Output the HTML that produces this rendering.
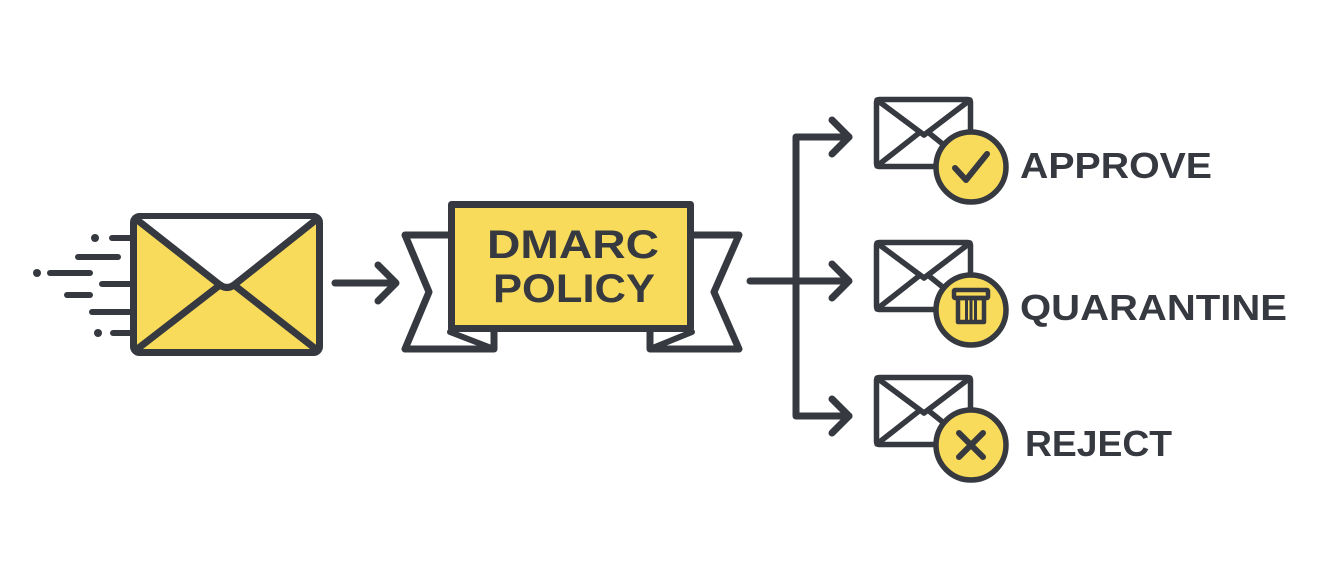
<!DOCTYPE html>
<html><head><meta charset="utf-8"><style>html,body{margin:0;padding:0;background:#fff}svg{display:block}</style></head>
<body>
<svg width="1338" height="578" viewBox="0 0 1338 578" xmlns="http://www.w3.org/2000/svg">
<g stroke="#363940" stroke-linecap="round" stroke-linejoin="round" fill="none">
  <g stroke-width="6">
    <line x1="112" y1="238" x2="130" y2="238"/>
    <line x1="78" y1="257" x2="118" y2="257"/>
    <line x1="50" y1="273" x2="90" y2="273"/>
    <line x1="102" y1="284" x2="130" y2="284"/>
    <line x1="67" y1="295" x2="90" y2="295"/>
    <line x1="92" y1="312" x2="130" y2="312"/>
    <line x1="113" y1="333" x2="130" y2="333"/>
  </g>
  <g stroke-width="8">
    <line x1="95" y1="238" x2="95" y2="238"/>
    <line x1="37" y1="273" x2="37" y2="273"/>
    <line x1="98" y1="333" x2="98" y2="333"/>
  </g>
  <rect x="133.5" y="216.5" width="186" height="136" rx="6" fill="#F8DB5A" stroke-width="7"/>
  <polygon points="136,219 317,219 228,287" fill="#fff" stroke="none"/>
  <path d="M136 219 L220 285 Q227 290 234 285 L317 219" stroke-width="7"/>
  <path d="M136 350 L220 285 M234 285 L317 350" stroke-width="7"/>
  <path d="M335 283 L396 283 M378 265 L396 283 L378 301" stroke-width="7"/>
  <path d="M448 235 L405 235 L429 292 L405 349 L494 349 L494 332" fill="#fff" stroke-width="7"/>
  <path d="M450 332 L494 349" stroke-width="6"/>
  <path d="M694 235 L739 235 L714 292 L739 349 L650 349 L650 332" fill="#fff" stroke-width="7"/>
  <path d="M692 332 L650 349" stroke-width="6"/>
  <rect x="451.5" y="204.5" width="239" height="124" fill="#F8DB5A" stroke-width="7"/>
  <path d="M750 281 L849 281 M832 264 L849 281 L832 298" stroke-width="7"/>
  <path d="M849 137 L796 137 L796 416 L849 416" stroke-width="7"/>
  <path d="M832 120 L849 137 L832 154 M832 399 L849 416 L832 433" stroke-width="7"/>
  <g stroke-width="5.5">
    <g>
      <rect x="876.5" y="99.5" width="94" height="67" rx="3" fill="#fff"/>
      <path d="M877 100 L924 135 L970 100 M877 166 L919 133 M929 133 L960 158"/>
      <circle cx="971" cy="167" r="35" fill="#F8DB5A"/>
      <path d="M955 168 L966 180 L987 154" stroke-width="6"/>
    </g>
    <g transform="translate(0,143)">
      <rect x="876.5" y="99.5" width="94" height="67" rx="3" fill="#fff"/>
      <path d="M877 100 L924 135 L970 100 M877 166 L919 133 M929 133 L960 158"/>
      <circle cx="971" cy="167" r="35" fill="#F8DB5A"/>
      <rect x="954" y="147" width="34" height="8" rx="1" stroke-width="4.5"/>
      <rect x="958" y="155" width="26" height="24" stroke-width="4.5"/>
      <path d="M966.5 158 L966.5 177 M971 158 L971 177 M975.5 158 L975.5 177" stroke-width="3"/>
    </g>
    <g transform="translate(0,278)">
      <rect x="876.5" y="99.5" width="94" height="67" rx="3" fill="#fff"/>
      <path d="M877 100 L924 135 L970 100 M877 166 L919 133 M929 133 L960 158"/>
      <circle cx="971" cy="167" r="35" fill="#F8DB5A"/>
      <path d="M959 155 L983 179 M983 155 L959 179" stroke-width="6"/>
    </g>
  </g>
</g>
<g font-family="Liberation Sans, sans-serif" font-weight="bold" fill="#363940">
  <text x="487" y="258" font-size="40" textLength="172" lengthAdjust="spacingAndGlyphs">DMARC</text>
  <text x="493" y="302" font-size="40" textLength="162" lengthAdjust="spacingAndGlyphs">POLICY</text>
  <text x="1020" y="178" font-size="36" textLength="192" lengthAdjust="spacingAndGlyphs">APPROVE</text>
  <text x="1020" y="320" font-size="36" textLength="267" lengthAdjust="spacingAndGlyphs">QUARANTINE</text>
  <text x="1025" y="456" font-size="36" textLength="147" lengthAdjust="spacingAndGlyphs">REJECT</text>
</g>
</svg>
</body></html>
